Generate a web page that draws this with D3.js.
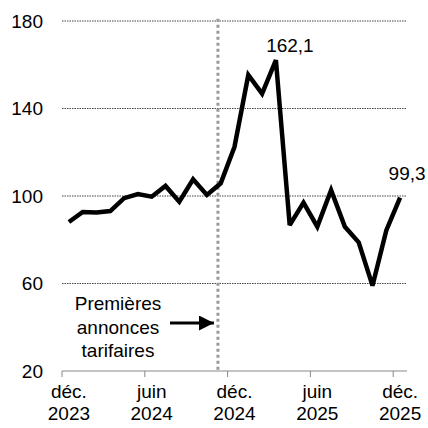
<!DOCTYPE html>
<html><head><meta charset="utf-8">
<script src="https://cdn.jsdelivr.net/npm/d3@7"></script>
<style>body{margin:0;background:#fff}svg{display:block;font-family:"Liberation Sans",Arial,sans-serif}</style>
</head><body><svg id="c" width="428" height="428"></svg>
<script>
const months = ["2023-12","2024-01","2024-02","2024-03","2024-04","2024-05","2024-06","2024-07","2024-08","2024-09","2024-10","2024-11","2024-12","2025-01","2025-02","2025-03","2025-04","2025-05","2025-06","2025-07","2025-08","2025-09","2025-10","2025-11","2025-12"];
const values = [88.1,92.7,92.5,93.1,99.0,100.9,99.7,104.6,97.4,107.6,100.5,105.8,122.5,155.3,146.8,162.1,86.7,97.0,86.0,102.7,85.9,78.8,59.0,84.3,99.3];
const yTicks = [20,60,100,140,180];
const xTickLabels = [["déc.","2023"],["juin","2024"],["déc.","2024"],["juin","2025"],["déc.","2025"]];
const xTickIdx = [0,6,12,18,24];
const annotIdx = 10.8;
const annotLines = ["Premières","annonces","tarifaires"];
const valueLabels = [{i:15,t:"162,1"},{i:24,t:"99,3"}];

const FS = 19;
const svg = d3.select("#c");
const x = d3.scaleLinear().domain([-0.5, months.length-0.5]).range([62,407]);
const y = d3.scaleLinear().domain([20,180]).range([371,21]);

// gridlines
svg.append("g").selectAll("line").data(yTicks.filter(v=>v>20)).join("line")
  .attr("x1",x(-0.5)).attr("x2",x(months.length-0.5))
  .attr("y1",d=>y(d)).attr("y2",d=>y(d))
  .attr("stroke","#444").attr("stroke-width",1).attr("stroke-dasharray","1.5,1");

// y labels
svg.append("g").selectAll("text").data(yTicks).join("text")
  .attr("x",43).attr("y",d=>y(d)).attr("dy","0.36em").attr("text-anchor","end")
  .attr("font-size",FS).text(d=>d);

// annotation vertical line
svg.append("line").attr("x1",x(annotIdx)).attr("x2",x(annotIdx))
  .attr("y1",y(181)).attr("y2",y(20))
  .attr("stroke","#999").attr("stroke-width",3).attr("stroke-dasharray","3,3");

// x axis
svg.append("line").attr("x1",x(-0.5)).attr("x2",x(months.length-0.5))
  .attr("y1",y(20)).attr("y2",y(20)).attr("stroke","#888").attr("stroke-width",1);
svg.append("g").selectAll("line").data(xTickIdx).join("line")
  .attr("x1",d=>x(d-0.5)).attr("x2",d=>x(d-0.5))
  .attr("y1",y(20)).attr("y2",y(20)+6).attr("stroke","#888").attr("stroke-width",1);
const xl = svg.append("g").selectAll("text").data(xTickIdx).join("text")
  .attr("x",d=>x(d)).attr("y",398).attr("text-anchor","middle").attr("font-size",FS);
xl.append("tspan").attr("x",d=>x(d)).text((d,i)=>xTickLabels[i][0]);
xl.append("tspan").attr("x",d=>x(d)).attr("dy",22).text((d,i)=>xTickLabels[i][1]);

// line
svg.append("path").datum(values)
  .attr("d",d3.line().x((d,i)=>x(i)).y(d=>y(d)))
  .attr("fill","none").attr("stroke","#000").attr("stroke-width",4.5)
  .attr("stroke-linejoin","miter").attr("stroke-miterlimit",3);

// value labels
svg.append("g").selectAll("text").data(valueLabels).join("text")
  .attr("x",d=>x(d.i)+ (d.i===24?7:14)).attr("y",d=>y(values[d.i])-(d.i===24?18:8))
  .attr("text-anchor","middle").attr("font-size",FS).text(d=>d.t);

// annotation text
svg.append("g").selectAll("text").data(annotLines).join("text")
  .attr("x",118).attr("y",(d,i)=>310+i*23.5).attr("text-anchor","middle").attr("font-size",FS).text(d=>d);

// arrow
svg.append("defs").append("marker").attr("id","ah").attr("viewBox","0 0 10 10")
  .attr("refX",10).attr("refY",5).attr("markerWidth",5).attr("markerHeight",5)
  .attr("orient","auto").attr("markerUnits","strokeWidth")
  .append("path").attr("d","M0,0L10,5L0,10z").attr("fill","#000");
svg.append("line").attr("x1",170).attr("x2",x(annotIdx)-4).attr("y1",323).attr("y2",323)
  .attr("stroke","#000").attr("stroke-width",3).attr("marker-end","url(#ah)");
</script></body></html>
